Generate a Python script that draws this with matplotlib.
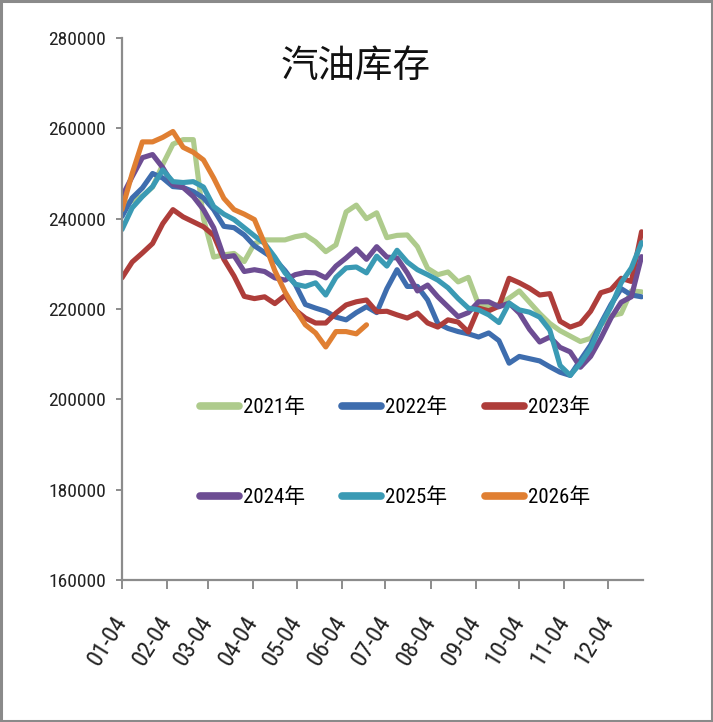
import matplotlib
matplotlib.use("Agg")
import matplotlib.pyplot as plt
from matplotlib import font_manager
from matplotlib.patches import Rectangle
from matplotlib.lines import Line2D
from matplotlib.legend import Legend

# ---------------- data ----------------
tick_labels = ["01-04", "02-04", "03-04", "04-04", "05-04", "06-04",
               "07-04", "08-04", "09-04", "10-04", "11-04", "12-04"]
tick_days = [0, 31, 59, 90, 120, 151, 181, 212, 243, 273, 304, 334]  # days after Jan-04
series_names = ["2021年", "2022年", "2023年", "2024年", "2025年", "2026年"]

y2021 = [243000, 244000, 245000, 247000, 252000, 256500, 257500, 257500, 240000, 231500,
         232000, 232300, 230500, 234500, 235300, 235300, 235300, 236000, 236400, 234900,
         232700, 234200, 241500, 243000, 240000, 241300, 235800, 236300, 236400, 233800,
         229000, 227600, 228200, 226000, 227000, 221000, 220500, 221000, 222400, 224000,
         221500, 219000, 216800, 215200, 214000, 212800, 213500, 216500, 218500, 219000,
         224000, 223800]
y2022 = [240500, 244600, 246800, 250000, 249000, 247100, 246900, 246000, 244600, 242000,
         238300, 238000, 236400, 234000, 232500, 231000, 228500, 225500, 221000, 220200,
         219500, 218200, 217600, 219200, 220500, 219200, 224500, 228700, 225000, 225000,
         222000, 216800, 215700, 215000, 214500, 213800, 214700, 213000, 208000, 209500,
         209000, 208500, 207200, 206000, 205300, 208700, 212000, 216800, 221000, 224500,
         223100, 222700]
y2023 = [226900, 230400, 232400, 234500, 238900, 242000, 240400, 239300, 238200, 236300,
         231000, 227300, 222800, 222300, 222700, 221200, 223000, 219800, 218000, 216900,
         216900, 219100, 220900, 221600, 222000, 219400, 219500, 218700, 218000, 219100,
         216900, 216000, 217600, 217100, 214900, 220200, 219600, 220600, 226800, 225800,
         224600, 223100, 223400, 217300, 216000, 216800, 219500, 223600, 224300, 226800,
         226100, 237100]
y2024 = [244900, 249300, 253500, 254200, 251300, 247600, 246900, 244900, 242000, 238000,
         231500, 231800, 228300, 228700, 228300, 226900, 226400, 227600, 228100, 228000,
         226900, 229500, 231300, 233300, 231000, 233800, 231500, 231300, 228000, 224000,
         225300, 222700, 220500, 218300, 219200, 221600, 221600, 220500, 221300, 219100,
         215500, 212700, 213800, 211500, 210500, 207100, 209500, 213500, 218000, 221500,
         222700, 231600]
y2025 = [237600, 242400, 244900, 247100, 250800, 248200, 248000, 248200, 247000, 242700,
         241000, 239800, 238000, 236200, 234500, 231500, 228000, 225500, 225000, 225800,
         223100, 227000, 229100, 229300, 228000, 231700, 229500, 233000, 230400, 228700,
         227600, 226400, 224700, 222300, 220200, 219800, 218700, 217000, 221300, 219800,
         219300, 218200, 215300, 207500, 205300, 208000, 211300, 216400, 220500, 225800,
         229100, 234700]
y2026 = [242000, 250000, 257000, 257000, 258000, 259300, 255800, 254700, 253000, 249000,
         244500, 242000, 241000, 239800, 234500, 228500, 223800, 220000, 216500, 214700,
         211600, 215000, 215000, 214500, 216500]

series_values = [y2021, y2022, y2023, y2024, y2025, y2026]
colors = ["#AECB8C", "#3E6DAE", "#AE3D3A", "#6D4D93", "#3A9AB4", "#E07F32"]

# ---------------- fonts ----------------
fl = font_manager.fontManager.ttflist
names = {f.name for f in fl}
narrow, stretch = None, "normal"
for cand in ["Liberation Sans Narrow", "Roboto Condensed", "Open Sans Condensed",
             "DejaVu Sans Condensed"]:
    if cand in names:
        narrow = cand
        break
if narrow is None:
    if any(f.name == "DejaVu Sans" and str(f.stretch) in ("condensed", "semi-condensed")
           for f in fl):
        narrow, stretch = "DejaVu Sans", "condensed"
    else:
        narrow = "Liberation Sans"
cjk = "Noto Sans CJK SC"
plt.rcParams["font.family"] = [narrow, cjk, "DejaVu Sans"]
plt.rcParams["font.stretch"] = stretch
is_narrow = narrow != "Liberation Sans"

# ---------------- figure ----------------
W, H = 713, 722
fig = plt.figure(figsize=(W / 100, H / 100), dpi=100)
fig.patch.set_facecolor("white")
ax = fig.add_axes([122 / W, 1 - 580 / H, (643 - 122) / W, (580 - 38) / H])

for vals, c in zip(series_values, colors):
    x = [i * 7 for i in range(len(vals))]
    ax.plot(x, vals, color=c, lw=3.7, solid_joinstyle="round", solid_capstyle="round")

ax.set_xlim(0, 358)
ax.set_ylim(160000, 280000)
ax.set_yticks(range(160000, 280001, 20000))
ax.set_yticklabels([str(v) for v in range(160000, 280001, 20000)])
ax.set_xticks(tick_days)
ax.set_xticklabels(tick_labels, rotation=58, ha="right", va="center",
                   rotation_mode="anchor")

spine_c = "#8C8C8C"
for s in ["top", "right"]:
    ax.spines[s].set_visible(False)
for s in ["left", "bottom"]:
    ax.spines[s].set_color(spine_c)
    ax.spines[s].set_linewidth(1.6)
ax.tick_params(axis="y", direction="out", length=4.5, width=1.4, color=spine_c,
               pad=7, labelsize=14 if is_narrow else 12.5, labelcolor="#222222")
ax.tick_params(axis="x", direction="out", length=6.5, width=1.4, color=spine_c,
               pad=21, labelsize=17.5 if is_narrow else 15.5, labelcolor="#222222")
ax.set_facecolor("white")

# title
fig.text(356 / W, 1 - 66 / H, "汽油库存", ha="center", va="center",
         fontsize=27, family=[cjk, "DejaVu Sans"], color="#111111")

# legend: one entry per anchored legend
leg_pos = [(200, 407), (342, 407), (485, 407), (200, 497), (342, 497), (485, 497)]
leg_size = 15 if is_narrow else 14
for name, c, (px, py) in zip(series_names, colors, leg_pos):
    h = Line2D([], [], color=c, lw=5.5, solid_capstyle="round")
    lg = Legend(ax, [h], [name], loc="center left",
                bbox_to_anchor=(px / W, 1 - py / H), bbox_transform=fig.transFigure,
                frameon=False, borderpad=0, borderaxespad=0, handlelength=1.85,
                handletextpad=0.2,
                prop={"size": leg_size, "family": [narrow, cjk], "stretch": stretch})
    ax.add_artist(lg)

# outer frame
fig.patches.append(Rectangle((0.0015, 0.0015), 0.997, 0.997, transform=fig.transFigure,
                             fill=False, edgecolor="#8A8A8A", lw=2.2))

fig.savefig("out.png", dpi=100, facecolor="white")
